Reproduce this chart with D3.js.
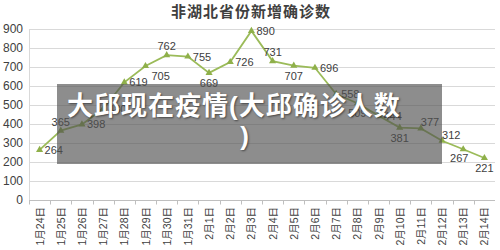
<!DOCTYPE html>
<html>
<head>
<meta charset="utf-8">
<script src="https://cdn.jsdelivr.net/npm/d3@7"></script>
<style>
  body { margin: 0; background: #fff; }
  svg text { font-family: "Liberation Sans", "Noto Sans CJK SC", sans-serif; }
</style>
</head>
<body>
<div id="chart"></div>
<script>
// chart data
const dates = ["1月24日", "1月25日", "1月26日", "1月27日", "1月28日", "1月29日", "1月30日", "1月31日",
  "2月1日", "2月2日", "2月3日", "2月4日", "2月5日", "2月6日", "2月7日", "2月8日", "2月9日",
  "2月10日", "2月11日", "2月12日", "2月13日", "2月14日"];
const newCases = [264, 365, 398, 480, 619, 705, 762, 755, 669, 726, 890, 731, 707, 696,
  558, 509, 444, 381, 377, 312, 267, 221];
const yTicks = [0, 100, 200, 300, 400, 500, 600, 700, 800, 900];
const chartTitle = "非湖北省份新增确诊数";
const overlayLines = ["大邱现在疫情(大邱确诊人数", ")"];

const width = 500, height = 250;
const margin = { top: 29, right: 5, bottom: 50, left: 29 };

const svg = d3.select("#chart")
  .append("svg")
  .attr("width", width)
  .attr("height", height);

const x = d3.scaleBand()
  .domain(dates)
  .range([margin.left, width - margin.right]);

const y = d3.scaleLinear()
  .domain([0, 900])
  .range([height - margin.bottom, margin.top]);

// gridlines
svg.append("g")
  .selectAll("line")
  .data(yTicks)
  .join("line")
  .attr("x1", margin.left)
  .attr("x2", width - margin.right)
  .attr("y1", d => Math.round(y(d)) + 0.5)
  .attr("y2", d => Math.round(y(d)) + 0.5)
  .attr("stroke", "#d9d9d9");

// y axis labels
svg.append("g")
  .selectAll("text")
  .data(yTicks)
  .join("text")
  .attr("x", margin.left - 6)
  .attr("y", d => y(d))
  .attr("dy", "0.35em")
  .attr("text-anchor", "end")
  .attr("font-size", 12)
  .attr("fill", "#404040")
  .text(d => d);

// y axis line
svg.append("line")
  .attr("x1", margin.left + 0.5).attr("x2", margin.left + 0.5)
  .attr("y1", y(900)).attr("y2", y(0))
  .attr("stroke", "#d9d9d9");

// x axis
const xAxis = svg.append("g")
  .attr("transform", `translate(0,${Math.round(y(0)) + 0.5})`);
xAxis.append("line")
  .attr("x1", margin.left).attr("x2", width - margin.right)
  .attr("stroke", "#bfbfbf");
xAxis.selectAll(".tk")
  .data(dates)
  .join("line")
  .attr("class", "tk")
  .attr("x1", d => Math.round(x(d)) + 0.5)
  .attr("x2", d => Math.round(x(d)) + 0.5)
  .attr("y1", 0).attr("y2", 4)
  .attr("stroke", "#bfbfbf");

svg.append("g")
  .selectAll("text")
  .data(dates)
  .join("text")
  .attr("transform", d => `translate(${x(d) + x.bandwidth() / 2 + 4},${y(0) + 7}) rotate(-90)`)
  .attr("text-anchor", "end")
  .attr("font-size", 10.5)
  .attr("font-family", "Noto Sans CJK SC")
  .attr("fill", "#404040")
  .text(d => d);

// title
svg.append("text")
  .attr("x", 251)
  .attr("y", 17)
  .attr("text-anchor", "middle")
  .attr("font-size", 15)
  .attr("letter-spacing", 1)
  .attr("font-weight", "bold")
  .attr("font-family", "Noto Sans CJK SC")
  .attr("fill", "#404040")
  .text(chartTitle);

// line
const cx = (d, i) => x(dates[i]) + x.bandwidth() / 2;
const line = d3.line()
  .x(cx)
  .y(d => y(d));

svg.append("path")
  .datum(newCases)
  .attr("fill", "none")
  .attr("stroke", "#9bbb59")
  .attr("stroke-width", 1.8)
  .attr("d", line);

svg.append("g")
  .selectAll("path")
  .data(newCases)
  .join("path")
  .attr("transform", (d, i) => `translate(${cx(d, i)},${y(d)})`)
  .attr("d", d3.symbol(d3.symbolTriangle, 22))
  .attr("fill", "#8fb04a");

// data labels: r = right, t = above, b = below
const labelSide = ["r", "t", "r", "r", "r", "br", "t", "r", "b", "r", "r", "t", "b", "r",
  "r", "b", "r", "b", "tr", "tr", "bl", "b"];
const offsets = {
  r: [5, 0, "start"], t: [0, -9, "middle"], b: [0, 10, "middle"],
  br: [6, 10, "start"], tr: [0, -6, "start"], bl: [-4, 9, "middle"]
};
svg.append("g")
  .selectAll("text")
  .data(newCases)
  .join("text")
  .attr("x", (d, i) => cx(d, i) + offsets[labelSide[i]][0])
  .attr("y", d => y(d))
  .attr("dy", (d, i) => offsets[labelSide[i]][1] + 4)
  .attr("text-anchor", (d, i) => offsets[labelSide[i]][2])
  .attr("font-size", 11)
  .attr("fill", "#404040")
  .text(d => d);

// grey caption overlay
svg.append("rect")
  .attr("x", 57).attr("y", 84)
  .attr("width", 385).attr("height", 80)
  .attr("fill", "rgb(80,80,80)")
  .attr("fill-opacity", 0.65);

svg.append("g")
  .selectAll("text")
  .data(overlayLines)
  .join("text")
  .attr("x", (d, i) => i === 0 ? 67 : 245)
  .attr("y", (d, i) => 115 + i * 30)
  .attr("text-anchor", (d, i) => i === 0 ? "start" : "middle")
  .attr("font-size", 26)
  .attr("letter-spacing", 1)
  .attr("font-weight", "bold")
  .attr("font-family", "Noto Sans CJK SC")
  .attr("fill", "#fff")
  .style("text-shadow", "1px 1px 2px rgba(0,0,0,0.5)")
  .text(d => d);
</script>
</body>
</html>
